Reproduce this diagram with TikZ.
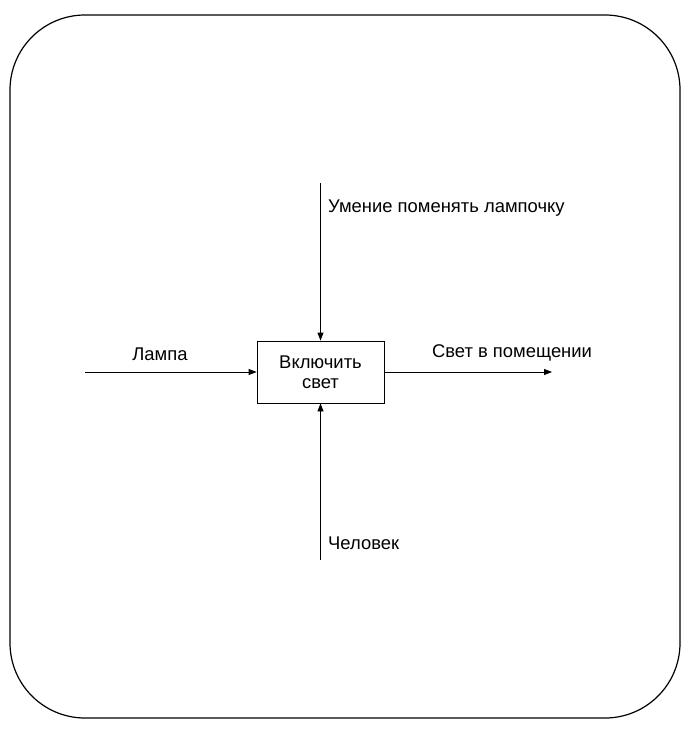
\documentclass[tikz,border=0pt]{standalone}
\usepackage{fontspec}
\setmainfont{Liberation Sans}
\usetikzlibrary{arrows.meta,positioning}

\begin{document}
\begin{tikzpicture}[x=1pt,y=-1pt,font=\fontsize{18.4}{20}\selectfont,
    flow/.style={-{Triangle[length=8pt,width=6pt]},line width=.8pt},
    lbl/.style={inner sep=0pt}]
  \useasboundingbox (0,0) rectangle (691,730);
  \draw[line width=1.2pt,rounded corners=75pt] (10,15) rectangle (680,718);
  \node[draw,line width=.8pt,minimum width=127pt,minimum height=62pt,align=center] (act) at (320.5,372) {Включить\\свет};
  \coordinate (in) at (85,372); \coordinate (out) at (552,372);
  \coordinate (ctl) at (320.5,183); \coordinate (mech) at (320.5,560);
  \draw[flow] (in) -- (act);
  \draw[flow] (act) -- (out);
  \draw[flow] (ctl) -- (act);
  \draw[flow] (mech) -- (act);
  \node[lbl] (lamp) at (160,354) {Лампа};
  \node[lbl] (light) at (512,353) {Свет в помещении};
  \node[lbl,anchor=west] (skill) at (328,208) {Умение поменять лампочку};
  \node[lbl,anchor=west] (man) at (328,543) {Человек};
\end{tikzpicture}
\end{document}
